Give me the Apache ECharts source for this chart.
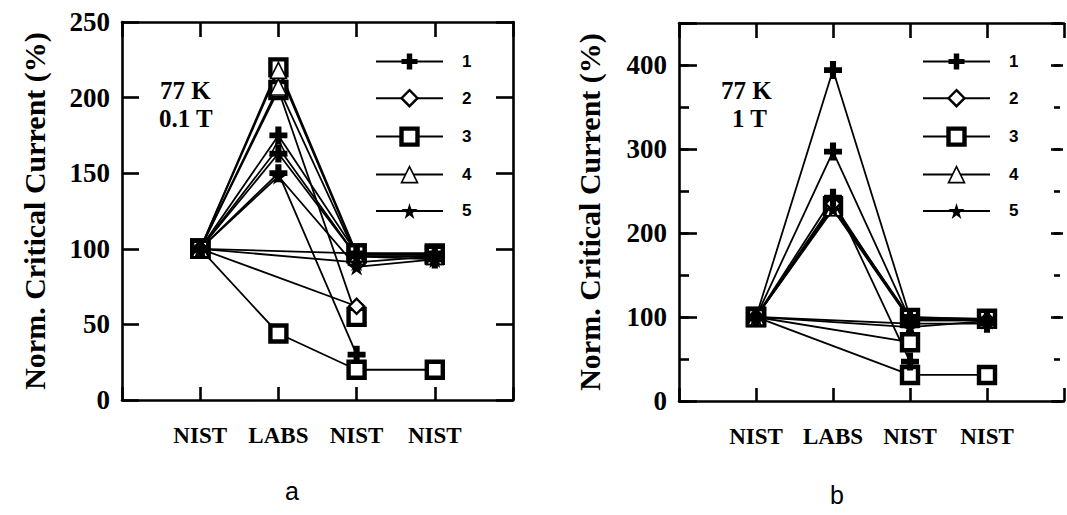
<!DOCTYPE html>
<html>
<head>
<meta charset="utf-8">
<script src="https://cdn.jsdelivr.net/npm/echarts@6/dist/echarts.min.js"></script>
<style>
html,body{margin:0;padding:0;background:#fff;}
#c{width:1067px;height:515px;}
</style>
</head>
<body>
<div id="c"></div>
<script>
// ---- data ----
const xLabels = ['NIST', 'LABS', 'NIST', 'NIST'];
const legendNames = ['1', '2', '3', '4', '5'];

// Panel a (77 K, 0.1 T) — values in % at NIST, LABS, NIST, NIST
const aSquare1 = [100, 220, 97, 97];
const aSquare2 = [100, 205, 55, null];
const aSquare3 = [100, 44, 20, 20];
const aSquare4 = [100, null, 97, 96];
const aTriangle1 = [100, 218, 96, 96];
const aTriangle2 = [100, 207, 95, 95];
const aTriangle3 = [100, 167, 95, 95];
const aDiamond1 = [100, null, 62, null];
const aStar1 = [100, 148, 88, 93];
const aStar2 = [100, null, 91, 95];
const aPlus1 = [100, 175, 97, 97];
const aPlus2 = [100, 150, 30, null];
const aPlus3 = [100, 163, 95, 93];

// Panel b (77 K, 1 T)
const bSquare1 = [100, 232, 99, 98];
const bSquare2 = [100, null, 70, null];
const bSquare3 = [100, null, 31, 31];
const bTriangle1 = [100, 230, 97, 97];
const bDiamond1 = [100, 235, 96, 96];
const bStar1 = [100, 228, 96, 96];
const bStar2 = [100, null, 88, 95];
const bPlus1 = [100, 394, 100, 97];
const bPlus2 = [100, 297, 97, 96];
const bPlus3 = [100, 242, 47, null];
const bPlus4 = [100, null, 92, 92];

const aYTicks = {min: 0, max: 250, interval: 50, labelEvery: 50};
const bYTicks = {min: 0, max: 450, interval: 50, labelEvery: 100, majorInterval: 100};

// ---- styles ----
const SERIF = '"Liberation Serif", "Times New Roman", serif';
const SANS = '"Liberation Sans", Arial, sans-serif';
const markers = {
  '1': {symbol: 'path://M3.3,0H6.7V3.4H10V6.6H6.7V10H3.3V6.6H0V3.4H3.3Z', size: 18,
        itemStyle: {color: '#000', borderWidth: 0}},
  '2': {symbol: 'diamond', size: 15, itemStyle: {color: '#fff', borderColor: '#000', borderWidth: 2.4}},
  '3': {symbol: 'rect', size: 16, itemStyle: {color: '#fff', borderColor: '#000', borderWidth: 4.4}},
  '4': {symbol: 'triangle', size: 16, itemStyle: {color: '#fff', borderColor: '#000', borderWidth: 1.6}},
  '5': {symbol: 'path://M50,0L61,35H98L68,57L79,91L50,70L21,91L32,57L2,35H39Z', size: 18,
        itemStyle: {color: '#000', borderWidth: 0}}
};

function mk(name, values, gi) {
  const m = markers[name];
  return {
    type: 'line', name: name,
    xAxisIndex: gi * 2, yAxisIndex: gi * 2,
    data: values.map((v, i) => [i + 1, v]).filter(p => p[1] !== null),
    symbol: m.symbol, symbolSize: m.size, symbolKeepAspect: true,
    showAllSymbol: true,
    itemStyle: m.itemStyle,
    lineStyle: {color: '#000', width: 1.8},
    emphasis: {disabled: true},
    animation: false
  };
}

const seriesList = [
  // panel a (draw order: squares, triangles, diamonds, stars, plus)
  mk('3', aSquare1, 0), mk('3', aSquare2, 0), mk('3', aSquare3, 0), mk('3', aSquare4, 0),
  mk('4', aTriangle1, 0), mk('4', aTriangle2, 0), mk('4', aTriangle3, 0),
  mk('2', aDiamond1, 0),
  mk('5', aStar1, 0), mk('5', aStar2, 0),
  mk('1', aPlus1, 0), mk('1', aPlus2, 0), mk('1', aPlus3, 0),
  // panel b
  mk('3', bSquare1, 1), mk('3', bSquare2, 1), mk('3', bSquare3, 1),
  mk('4', bTriangle1, 1),
  mk('2', bDiamond1, 1),
  mk('5', bStar1, 1), mk('5', bStar2, 1),
  mk('1', bPlus1, 1), mk('1', bPlus2, 1), mk('1', bPlus3, 1), mk('1', bPlus4, 1)
];

const AX = {color: '#000', width: 2.6};

function xAxes(gi) {
  const base = {
    type: 'value', gridIndex: gi, min: 0, max: 5, interval: 1,
    splitLine: {show: false},
    axisLine: {show: true, onZero: false, lineStyle: AX}
  };
  return [
    Object.assign({}, base, {
      position: 'bottom',
      axisTick: {show: true, inside: true, length: 13, lineStyle: AX},
      axisLabel: {
        show: true, margin: 24, color: '#000',
        fontFamily: SERIF, fontWeight: 'bold', fontSize: 23,
        formatter: v => xLabels[v - 1] || ''
      }
    }),
    Object.assign({}, base, {
      position: 'top',
      axisTick: {show: true, inside: true, length: 15, lineStyle: AX},
      axisLabel: {show: false}
    })
  ];
}

// main y axes (left with labels + name, right ticks)
function yAxes(gi, t, nameGap, tickLen, rightOffset, rightLine) {
  const base = {
    type: 'value', gridIndex: gi, min: t.min, max: t.max, interval: t.interval,
    splitLine: {show: false},
    axisLine: {show: true, onZero: false, lineStyle: AX}
  };
  return [
    Object.assign({}, base, {
      position: 'left',
      axisTick: {show: true, inside: true, length: tickLen, lineStyle: AX},
      axisLabel: {
        show: true, margin: 12, color: '#000',
        fontFamily: SERIF, fontWeight: 'bold', fontSize: 27,
        formatter: v => (v % t.labelEvery === 0 ? String(v) : '')
      },
      name: 'Norm. Critical Current (%)',
      nameLocation: 'middle', nameGap: nameGap,
      nameTextStyle: {color: '#000', fontFamily: SERIF, fontWeight: 'bold', fontSize: 30}
    }),
    Object.assign({}, base, {
      position: 'right', offset: rightOffset,
      axisLine: {show: rightLine, onZero: false, lineStyle: AX},
      axisTick: {show: true, inside: true, length: tickLen + rightOffset, lineStyle: AX},
      axisLabel: {show: false}
    })
  ];
}

// overlay grid for panel b's longer (major) ticks every 100
function majorAxesB(gi, t, rightOffset) {
  const base = {
    type: 'value', gridIndex: gi, min: t.min, max: t.max, interval: t.majorInterval,
    splitLine: {show: false},
    axisLine: {show: false, onZero: false},
    axisLabel: {show: false}
  };
  return [
    Object.assign({}, base, {position: 'left',
      axisTick: {show: true, inside: true, length: 18, lineStyle: AX}}),
    Object.assign({}, base, {position: 'right', offset: rightOffset,
      axisTick: {show: true, inside: true, length: 16 + rightOffset, lineStyle: AX}})
  ];
}

function legendFor(left) {
  return {
    data: legendNames, orient: 'vertical', left: left, top: 48,
    itemWidth: 67, itemHeight: 20, itemGap: 19,
    selectedMode: false,
    itemStyle: {borderWidth: 'inherit'},
    textStyle: {color: '#000', fontFamily: SANS, fontWeight: 'bold', fontSize: 17, padding: [0, 0, 0, 14]}
  };
}

const chart = echarts.init(document.getElementById('c'), null, {renderer: 'svg'});
chart.setOption({
  backgroundColor: '#fff',
  animation: false,
  grid: [
    {left: 122, top: 22, width: 391, height: 378},
    {left: 679, top: 23, width: 392, height: 378},
    {left: 679, top: 23, width: 392, height: 378}
  ],
  xAxis: [...xAxes(0), ...xAxes(1),
    {type: 'value', gridIndex: 2, min: 0, max: 5, show: false}],
  yAxis: [...yAxes(0, aYTicks, 73, 17, 0, true),
          ...yAxes(1, bYTicks, 75, 10, -4, false),
          ...majorAxesB(2, bYTicks, -4)],
  legend: [legendFor(370), legendFor(917)],
  graphic: [
    {type: 'text', left: 160, top: 78, style: {text: '77 K', font: 'bold 25px ' + SERIF, fill: '#000'}},
    {type: 'text', left: 159, top: 106, style: {text: '0.1 T', font: 'bold 25px ' + SERIF, fill: '#000'}},
    {type: 'text', left: 721, top: 78, style: {text: '77 K', font: 'bold 25px ' + SERIF, fill: '#000'}},
    {type: 'text', left: 732, top: 106, style: {text: '1 T', font: 'bold 25px ' + SERIF, fill: '#000'}},
    {type: 'text', left: 285, top: 478, style: {text: 'a', font: '25px ' + SANS, fill: '#000'}},
    {type: 'text', left: 830, top: 482, style: {text: 'b', font: '25px ' + SANS, fill: '#000'}}
  ],
  series: seriesList
});
</script>
</body>
</html>
